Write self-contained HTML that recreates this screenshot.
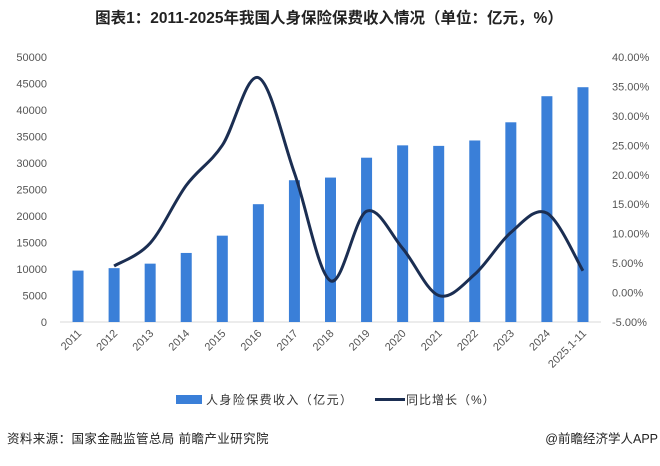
<!DOCTYPE html>
<html><head><meta charset="utf-8">
<style>
html,body{margin:0;padding:0;background:#fff;}
body{width:660px;height:461px;overflow:hidden;font-family:"Liberation Sans","Noto Sans CJK SC",sans-serif;}
svg text{font-family:"Liberation Sans","Noto Sans CJK SC",sans-serif;}
</style></head>
<body>
<svg id="chart" width="660" height="461" viewBox="0 0 660 461">
<text x="329" y="23" text-anchor="middle" font-size="15.5" font-weight="bold" fill="#222">图表1：2011-2025年我国人身保险保费收入情况（单位：亿元，%）</text>
<g id="axes"></g>
<g id="bars"></g>
<g id="line"></g>
<g>
<rect x="176" y="395" width="26" height="9" fill="#3a7fd8"/>
<text x="206" y="404" font-size="12" letter-spacing="1.4" fill="#333">人身险保费收入（亿元）</text>
<line x1="375" y1="399.5" x2="405" y2="399.5" stroke="#1b2e52" stroke-width="3"/>
<text x="406" y="404" font-size="12" letter-spacing="1" fill="#333">同比增长（%）</text>
</g>
<text x="7" y="443" font-size="12.5" letter-spacing="0.4" fill="#222">资料来源：国家金融监管总局 前瞻产业研究院</text>
<text x="658" y="443" text-anchor="end" font-size="12.5" fill="#222">@前瞻经济学人APP</text>
</svg>
<script>
const categories=["2011","2012","2013","2014","2015","2016","2017","2018","2019","2020","2021","2022","2023","2024","2025.1-11"];
const premiums=[9700,10160,11010,13030,16290,22230,26750,27250,31000,33330,33230,34250,37680,42600,44300];
const growth=[null,4.5,8.4,18.2,25.0,36.5,20.3,2.0,13.8,7.5,-0.5,3.1,10.2,13.5,3.7];
const leftTicks=[0,5000,10000,15000,20000,25000,30000,35000,40000,45000,50000];
const rightTicks=[-5,0,5,10,15,20,25,30,35,40];
const NS="http://www.w3.org/2000/svg";
const plotTop=57,plotBottom=322,x0=60,x1=601;
const yL=v=>plotBottom-(v/50000)*(plotBottom-plotTop);
const yR=v=>plotBottom-((v+5)/45)*(plotBottom-plotTop);
const step=(x1-x0)/categories.length;
const xC=i=>x0+step*(i+0.5);
function mk(tag,attrs,parent){const e=document.createElementNS(NS,tag);for(const k in attrs)e.setAttribute(k,attrs[k]);parent.appendChild(e);return e;}
const axes=document.getElementById('axes'),bars=document.getElementById('bars'),lineG=document.getElementById('line');
const base=mk('line',{x1:x0,x2:x1,y1:plotBottom,y2:plotBottom,stroke:'#d9d9d9','stroke-width':1},axes);


leftTicks.forEach(v=>{const t=mk('text',{x:47,y:yL(v)+4,'text-anchor':'end','font-size':11,fill:'#555'},axes);t.textContent=v;

});
rightTicks.forEach(v=>{const t=mk('text',{x:612,y:yR(v)+4,'font-size':11,fill:'#555'},axes);t.textContent=v.toFixed(2)+'%';

});
categories.forEach((c,i)=>{const x=xC(i)+4,y=plotBottom+12;const t=mk('text',{x:x,y:y,'text-anchor':'end','font-size':11,fill:'#555',transform:`rotate(-45 ${x} ${y})`},axes);t.textContent=c;

});
premiums.forEach((v,i)=>{const r=mk('rect',{x:xC(i)-5.5,y:yL(v),width:11,height:plotBottom-yL(v),fill:'#3a7fd8'},bars);

});
const pts=[];growth.forEach((v,i)=>{if(v!==null)pts.push([xC(i),yR(v)]);});
let d=`M${pts[0][0]},${pts[0][1]}`;
for(let i=0;i<pts.length-1;i++){const p0=pts[i-1]||pts[i],p1=pts[i],p2=pts[i+1],p3=pts[i+2]||p2;
const c1=[p1[0]+(p2[0]-p0[0])/6,p1[1]+(p2[1]-p0[1])/6],c2=[p2[0]-(p3[0]-p1[0])/6,p2[1]-(p3[1]-p1[1])/6];
d+=` C${c1[0]},${c1[1]} ${c2[0]},${c2[1]} ${p2[0]},${p2[1]}`;}
const path=mk('path',{d:d,fill:'none',stroke:'#1b2e52','stroke-width':3},lineG);


</script>
</body></html>
